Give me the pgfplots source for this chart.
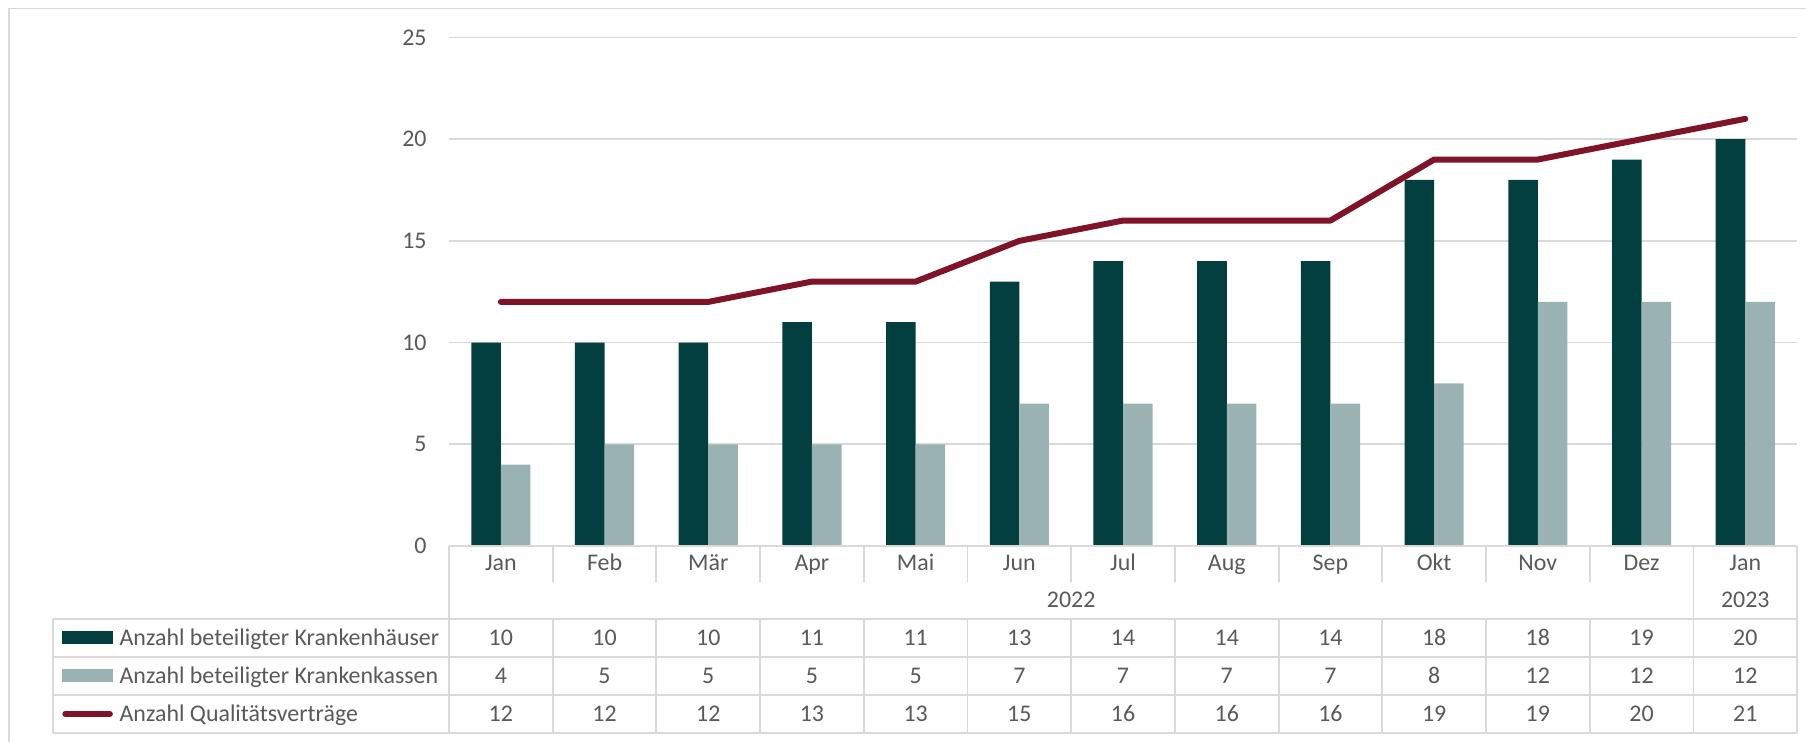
\documentclass[border=0pt]{standalone}
\usepackage{pgfplots}
\pgfplotsset{compat=1.18}
\usepackage{pgfplotstable}
\usepackage{fontspec}
\setmainfont{Carlito}
\definecolor{kh}{HTML}{033F3F}
\definecolor{kk}{HTML}{9BB2B2}
\definecolor{qv}{HTML}{7F1428}
\definecolor{txt}{HTML}{595959}
\definecolor{grd}{HTML}{D9D9D9}

\pgfplotstableread{
x kh kk qv
0 10 4 12
1 10 5 12
2 10 5 12
3 11 5 13
4 11 5 13
5 13 7 15
6 14 7 16
7 14 7 16
8 14 7 16
9 18 8 19
10 18 12 19
11 19 12 20
12 20 12 21
}\data

\newcommand{\fnt}{\fontsize{11.95}{14}\selectfont}

\begin{document}
\begin{tikzpicture}[font=\fnt]
\useasboundingbox (-224.5pt,-98pt) rectangle (678.5pt,273pt);
\draw[grd, line width=0.8pt] (-220pt,-110pt) -- (-220pt,268.8pt) -- (690pt,268.8pt);
\begin{axis}[
  scale only axis, width=674.05pt, height=254.25pt,
  xmin=-0.5, xmax=12.5, ymin=0, ymax=25,
  axis line style={draw=none},
  ytick={0,5,...,25},
  xtick={0,...,12},
  xticklabels={Jan,Feb,Mär,Apr,Mai,Jun,Jul,Aug,Sep,Okt,Nov,Dez,Jan},
  major tick length=0pt,
  ymajorgrids, grid style={grd, line width=0.8pt},
  tick label style={font=\fnt, text=txt},
  /pgf/number format/assume math mode=true,
  xticklabel style={anchor=base, inner sep=0pt, yshift=-12.25pt},
  yticklabel style={anchor=east, inner sep=0pt, xshift=-11pt},
  clip=false,
]
\addplot[ybar, bar width=0.285, bar shift=-0.1425, fill=kh, draw=none] table[x=x, y=kh]{\data};
\addplot[ybar, bar width=0.285, bar shift=0.1425, fill=kk, draw=none] table[x=x, y=kk]{\data};
\addplot[qv, line width=3pt, line cap=round, line join=round, mark=none] table[x=x, y=qv]{\data};
% data table values
\addplot[draw=none, mark=none, nodes near coords, point meta=explicit,
  every node near coord/.append style={anchor=base, inner sep=0pt, text=txt, font=\fnt}]
  table[x=x, y expr=-4.89, meta=kh]{\data};
\addplot[draw=none, mark=none, nodes near coords, point meta=explicit,
  every node near coord/.append style={anchor=base, inner sep=0pt, text=txt, font=\fnt}]
  table[x=x, y expr=-6.76, meta=kk]{\data};
\addplot[draw=none, mark=none, nodes near coords, point meta=explicit,
  every node near coord/.append style={anchor=base, inner sep=0pt, text=txt, font=\fnt}]
  table[x=x, y expr=-8.63, meta=qv]{\data};
\end{axis}
\begin{scope}[x=51.85pt, y=10.17pt, xshift=25.925pt]
  \begin{scope}[grd, line width=0.9pt]
  \draw (-0.5,0) -- (12.5,0);
  \foreach \yy in {-3.59,-5.46,-7.32,-9.19} \draw (-4.32,\yy) -- (12.5,\yy);
  \draw (-4.32,-3.59) -- (-4.32,-9.19);
  \draw (-0.5,0) -- (-0.5,-9.19);
  \draw (11.5,0) -- (11.5,-9.19);
  \draw (12.5,0) -- (12.5,-9.19);
  \foreach \k in {0.5,1.5,...,10.5} {
    \draw (\k,0) -- (\k,-1.77);
    \draw (\k,-3.59) -- (\k,-9.19);
  }
  \end{scope}
  \node[anchor=base, inner sep=0pt, text=txt] at (5.5,-3.02) {2022};
  \node[anchor=base, inner sep=0pt, text=txt] at (12,-3.02) {2023};
  \fill[kh] (-4.23,-4.18) rectangle (-3.74,-4.82);
  \fill[kk] (-4.23,-6.05) rectangle (-3.74,-6.69);
  \draw[qv, line width=3pt, line cap=round] (-4.20,-8.26) -- (-3.77,-8.26);
  \node[anchor=base west, inner sep=0pt, text=txt] at (-3.68,-4.89) {Anzahl beteiligter Krankenhäuser};
  \node[anchor=base west, inner sep=0pt, text=txt] at (-3.68,-6.76) {Anzahl beteiligter Krankenkassen};
  \node[anchor=base west, inner sep=0pt, text=txt] at (-3.68,-8.63) {Anzahl Qualitätsverträge};
\end{scope}
\end{tikzpicture}
\end{document}
